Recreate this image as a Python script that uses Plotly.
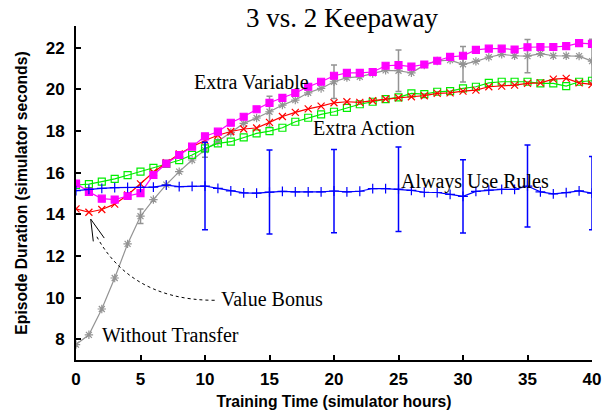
import plotly.graph_objects as go

hours = list(range(0, 41))

without_transfer = [7.74, 8.21, 9.45, 10.94, 12.58, 13.91, 14.71, 15.43, 16.05, 16.61,
                    17.09, 17.50, 17.93, 18.37, 18.63, 18.93, 19.25, 19.49, 19.84, 20.05,
                    20.37, 20.57, 20.61, 20.77, 20.92, 20.90, 20.80, 21.17, 21.37, 21.41,
                    21.21, 21.35, 21.55, 21.69, 21.62, 21.60, 21.72, 21.62, 21.62, 21.60,
                    21.36]
without_transfer_err = {5: 0.35, 10: 0.35, 15: 0.75, 20: 0.8, 25: 1.0, 30: 0.85, 35: 0.8, 40: 1.05}

always_rules = [15.14, 15.20, 15.25, 15.28, 15.29, 15.30, 15.31, 15.40, 15.33, 15.34,
                15.36, 15.25, 15.13, 15.03, 15.02, 15.07, 15.10, 15.08, 15.08, 15.08,
                15.12, 15.08, 15.11, 15.24, 15.24, 15.21, 15.15, 15.06, 15.05, 14.96,
                14.86, 15.10, 15.16, 15.20, 15.20, 15.36, 15.08, 14.98, 15.04, 15.13,
                15.02]
always_rules_err = {10: 2.1, 15: 2.02, 20: 2.0, 25: 2.03, 30: 1.76, 35: 1.97, 40: 1.76}

extra_variable = [15.48, 15.08, 14.75, 14.71, 14.88, 15.02, 15.89, 16.44, 16.85, 17.25,
                  17.75, 17.97, 18.40, 18.69, 19.05, 19.36, 19.60, 19.83, 20.13, 20.37,
                  20.66, 20.80, 20.80, 20.84, 21.14, 21.17, 21.10, 21.20, 21.38, 21.57,
                  21.62, 21.90, 21.96, 21.96, 21.92, 22.03, 22.04, 22.04, 22.08, 22.23,
                  22.19]

value_bonus = [14.26, 14.10, 14.23, 14.49, 14.93, 15.46, 16.02, 16.48, 16.90, 17.25,
               17.55, 17.80, 17.98, 18.10, 18.15, 18.42, 18.70, 18.90, 19.07, 19.20,
               19.36, 19.41, 19.38, 19.46, 19.54, 19.60, 19.65, 19.70, 19.81, 19.84,
               19.92, 19.97, 20.13, 20.16, 20.21, 20.29, 20.32, 20.50, 20.53, 20.32,
               20.24]

extra_action = [15.41, 15.45, 15.57, 15.70, 15.88, 16.05, 16.23, 16.42, 16.60, 16.85,
                17.17, 17.41, 17.49, 17.70, 17.89, 18.00, 18.16, 18.45, 18.64, 18.80,
                18.93, 19.12, 19.29, 19.41, 19.54, 19.62, 19.81, 19.78, 19.89, 19.92,
                20.05, 20.13, 20.32, 20.37, 20.37, 20.37, 20.29, 20.29, 20.16, 20.37,
                20.42]

x_ticks = [0, 5, 10, 15, 20, 25, 30, 35, 40]
y_ticks = [8, 10, 12, 14, 16, 18, 20, 22]

GRAY = "#939393"
BLUE = "#0000ff"
MAGENTA = "#ff00ff"
RED = "#ff0000"
GREEN = "#00ee00"

fig = go.Figure()


def add_series(y, color, symbol, size, name, lw=1.2):
    fig.add_trace(go.Scatter(
        x=hours, y=y, mode="lines+markers", name=name,
        line=dict(color=color, width=lw),
        marker=dict(symbol=symbol, size=size, color=color,
                    line=dict(color=color, width=1.2)),
        showlegend=False, hoverinfo="skip"))


def add_err(y, errs, color):
    xs = sorted(errs.keys())
    fig.add_trace(go.Scatter(
        x=xs, y=[y[hours.index(h)] for h in xs], mode="markers",
        marker=dict(size=1, opacity=0),
        error_y=dict(type="data", array=[errs[h] for h in xs], visible=True,
                     color=color, thickness=1.5, width=3),
        showlegend=False, hoverinfo="skip"))


add_series(without_transfer, GRAY, "asterisk-open", 7, "Without Transfer")
add_err(without_transfer, without_transfer_err, GRAY)
add_series(extra_action, GREEN, "square-open", 7, "Extra Action")
add_series(value_bonus, RED, "x-thin-open", 7, "Value Bonus")
add_series(extra_variable, MAGENTA, "square", 7, "Extra Variable")
add_series(always_rules, BLUE, "cross-thin-open", 7, "Always Use Rules")
add_err(always_rules, always_rules_err, BLUE)

serif = "Liberation Serif, Times New Roman, serif"
labels = [
    ("Extra Variable", 13.62, 20.37),
    ("Extra Action", 22.33, 18.15),
    ("Always Use Rules", 30.9, 15.57),
    ("Value Bonus", 15.23, 9.93),
    ("Without Transfer", 7.29, 8.22),
]
for text, lx, ly in labels:
    fig.add_annotation(x=lx, y=ly, text=text, showarrow=False,
                       font=dict(family=serif, size=20, color="black"),
                       xanchor="center", yanchor="middle")

# title as annotation (exact placement)
fig.add_annotation(x=(342 - 76) / 516, y=1 + 8 / 334, xref="paper", yref="paper",
                   text="3 vs. 2 Keepaway", showarrow=False,
                   font=dict(family=serif, size=27, color="black"),
                   xanchor="center", yanchor="middle")

# dotted curve from "Value Bonus" to arrow head
fig.add_shape(type="path", xref="x", yref="y",
              path="M 10.75,9.87 C 5.74,9.87 3.0,11.3 1.55,13.0",
              line=dict(color="black", width=1, dash="dot"))
fig.add_shape(type="path", xref="x", yref="y",
              path="M 1.34,12.70 L 1.14,13.77 L 2.19,12.86",
              line=dict(color="black", width=1))

fig.update_layout(
    width=610, height=410,
    margin=dict(l=76, r=18, t=26, b=50, autoexpand=False),
    paper_bgcolor="white", plot_bgcolor="white",
    font=dict(family="Liberation Sans, Arial, sans-serif", color="black"),
)

fig.update_xaxes(range=[0, 40], tickvals=x_ticks, ticktext=[str(v) for v in x_ticks],
                 automargin=False,
                 showline=True, linewidth=2, linecolor="black", mirror=False,
                 ticks="inside", ticklen=5, tickwidth=2, tickcolor="black",
                 showgrid=False, zeroline=False, ticklabelstandoff=3,
                 tickfont=dict(size=17, weight="bold"),
                 title=dict(text="Training Time (simulator hours)", standoff=8,
                            font=dict(size=15.7, weight="bold")))
fig.update_yaxes(range=[7.0, 23.05], tickvals=y_ticks, ticktext=[str(v) for v in y_ticks],
                 automargin=False,
                 showline=True, linewidth=2, linecolor="black", mirror=False,
                 ticks="inside", ticklen=5, tickwidth=2, tickcolor="black",
                 showgrid=False, zeroline=False, ticklabelstandoff=6,
                 tickfont=dict(size=17, weight="bold"),
                 title=dict(text="Episode Duration (simulator seconds)", standoff=14,
                            font=dict(size=15.7, weight="bold")))

fig.write_html("out.html", post_script="document.body.style.margin='0px';",
               config={"displayModeBar": False})
